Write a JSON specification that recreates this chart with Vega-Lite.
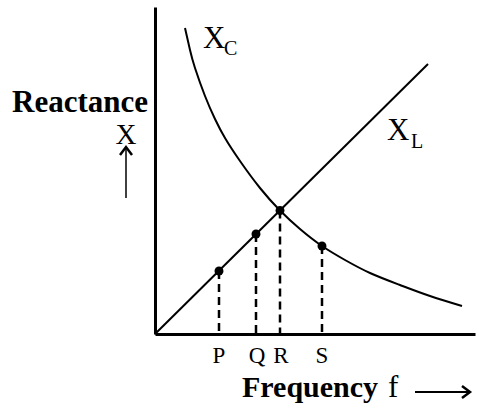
{
  "$schema": "https://vega.github.io/schema/vega-lite/v6.json",
  "width": 320,
  "height": 327,
  "autosize": {"type": "none"},
  "padding": {"left": 155, "top": 7, "right": 4, "bottom": 78},
  "background": "white",
  "config": {"view": {"stroke": null}, "font": "Liberation Serif"},
  "datasets": {
    "curves": [
      {"series": "XL", "f": 0, "x": 0},
      {"series": "XL", "f": 273, "x": 270},
      {"series": "XC", "f": 30, "x": 306},
      {"series": "XC", "f": 35, "x": 284},
      {"series": "XC", "f": 40, "x": 266},
      {"series": "XC", "f": 50, "x": 238},
      {"series": "XC", "f": 60, "x": 215},
      {"series": "XC", "f": 70, "x": 196},
      {"series": "XC", "f": 85, "x": 173},
      {"series": "XC", "f": 105, "x": 146},
      {"series": "XC", "f": 125, "x": 123.5},
      {"series": "XC", "f": 145, "x": 105},
      {"series": "XC", "f": 167, "x": 88},
      {"series": "XC", "f": 190, "x": 74},
      {"series": "XC", "f": 215, "x": 61},
      {"series": "XC", "f": 245, "x": 49},
      {"series": "XC", "f": 275, "x": 38},
      {"series": "XC", "f": 307, "x": 28}
    ],
    "marked": [
      {"name": "P", "f": 64, "x": 63, "lx": 64},
      {"name": "Q", "f": 101, "x": 100, "lx": 102},
      {"name": "R", "f": 125, "x": 123.5, "lx": 126},
      {"name": "S", "f": 167, "x": 88, "lx": 167}
    ]
  },
  "encoding": {
    "x": {"type": "quantitative", "scale": {"domain": [0, 320], "nice": false, "zero": false}},
    "y": {"type": "quantitative", "scale": {"domain": [0, 327], "nice": false, "zero": false}}
  },
  "layer": [
    {
      "data": {"name": "curves"},
      "mark": {"type": "line", "color": "black", "strokeWidth": 2, "interpolate": "natural"},
      "encoding": {
        "x": {"field": "f", "type": "quantitative", "axis": {"title": null, "labels": false, "ticks": false, "grid": false, "domainColor": "black", "domainWidth": 3}},
        "y": {"field": "x", "type": "quantitative", "axis": {"title": null, "labels": false, "ticks": false, "grid": false, "domainColor": "black", "domainWidth": 3}},
        "detail": {"field": "series"}
      }
    },
    {
      "data": {"name": "marked"},
      "mark": {"type": "rule", "color": "black", "strokeWidth": 2.5, "strokeDash": [8, 5]},
      "encoding": {
        "x": {"field": "f", "type": "quantitative"},
        "y": {"field": "x", "type": "quantitative"},
        "y2": {"datum": 0}
      }
    },
    {
      "data": {"name": "marked"},
      "mark": {"type": "point", "filled": true, "color": "black", "size": 80, "opacity": 1},
      "encoding": {
        "x": {"field": "f", "type": "quantitative"},
        "y": {"field": "x", "type": "quantitative"}
      }
    },
    {
      "data": {"name": "marked"},
      "mark": {"type": "text", "font": "Liberation Serif", "fontSize": 23, "baseline": "alphabetic", "align": "center", "color": "black"},
      "encoding": {
        "x": {"field": "lx", "type": "quantitative"},
        "y": {"datum": -29},
        "text": {"field": "name"}
      }
    },
    {
      "data": {"values": [
        {"t": "X", "x": 48, "y": 286},
        {"t": "X", "x": 232, "y": 194},
        {"t": "f", "x": 233, "y": -63}
      ]},
      "mark": {"type": "text", "font": "Liberation Serif", "fontSize": 31, "baseline": "alphabetic", "align": "left", "color": "black"},
      "encoding": {
        "x": {"field": "x", "type": "quantitative"},
        "y": {"field": "y", "type": "quantitative"},
        "text": {"field": "t"}
      }
    },
    {
      "data": {"values": [
        {"t": "X", "x": -29, "y": 190}
      ]},
      "mark": {"type": "text", "font": "Liberation Serif", "fontSize": 29, "baseline": "alphabetic", "align": "center", "color": "black"},
      "encoding": {
        "x": {"field": "x", "type": "quantitative"},
        "y": {"field": "y", "type": "quantitative"},
        "text": {"field": "t"}
      }
    },
    {
      "data": {"values": [
        {"t": "C", "x": 69, "y": 279},
        {"t": "L", "x": 256, "y": 186}
      ]},
      "mark": {"type": "text", "font": "Liberation Serif", "fontSize": 20, "baseline": "alphabetic", "align": "left", "color": "black"},
      "encoding": {
        "x": {"field": "x", "type": "quantitative"},
        "y": {"field": "y", "type": "quantitative"},
        "text": {"field": "t"}
      }
    },
    {
      "data": {"values": [
        {"t": "Reactance", "x": -75, "y": 222}
      ]},
      "mark": {"type": "text", "font": "Liberation Serif", "fontSize": 31, "fontWeight": "bold", "baseline": "alphabetic", "align": "center", "color": "black"},
      "encoding": {
        "x": {"field": "x", "type": "quantitative"},
        "y": {"field": "y", "type": "quantitative"},
        "text": {"field": "t"}
      }
    },
    {
      "data": {"values": [
        {"t": "Frequency", "x": 87, "y": -63}
      ]},
      "mark": {"type": "text", "font": "Liberation Serif", "fontSize": 30, "fontWeight": "bold", "baseline": "alphabetic", "align": "left", "color": "black"},
      "encoding": {
        "x": {"field": "x", "type": "quantitative"},
        "y": {"field": "y", "type": "quantitative"},
        "text": {"field": "t"}
      }
    },
    {
      "data": {"values": [
        {"x1": -29, "y1": 136, "x2": -29, "y2": 186}
      ]},
      "mark": {"type": "rule", "color": "black", "strokeWidth": 1.5},
      "encoding": {
        "x": {"field": "x1", "type": "quantitative"},
        "y": {"field": "y1", "type": "quantitative"},
        "x2": {"field": "x2"},
        "y2": {"field": "y2"}
      }
    },
    {
      "data": {"values": [
        {"x1": 260, "y1": -58, "x2": 314, "y2": -58}
      ]},
      "mark": {"type": "rule", "color": "black", "strokeWidth": 2},
      "encoding": {
        "x": {"field": "x1", "type": "quantitative"},
        "y": {"field": "y1", "type": "quantitative"},
        "x2": {"field": "x2"},
        "y2": {"field": "y2"}
      }
    },
    {
      "data": {"values": [{"x": -29, "y": 187}]},
      "mark": {"type": "point", "shape": "M -0.6 0.8 L 0 0 L 0.6 0.8", "filled": false, "color": "black", "strokeWidth": 2.5, "size": 400, "opacity": 1},
      "encoding": {
        "x": {"field": "x", "type": "quantitative"},
        "y": {"field": "y", "type": "quantitative"}
      }
    },
    {
      "data": {"values": [{"x": 315, "y": -58}]},
      "mark": {"type": "point", "shape": "M -0.6 0.8 L 0 0 L 0.6 0.8", "angle": 90, "filled": false, "color": "black", "strokeWidth": 2.5, "size": 400, "opacity": 1},
      "encoding": {
        "x": {"field": "x", "type": "quantitative"},
        "y": {"field": "y", "type": "quantitative"}
      }
    }
  ]
}
